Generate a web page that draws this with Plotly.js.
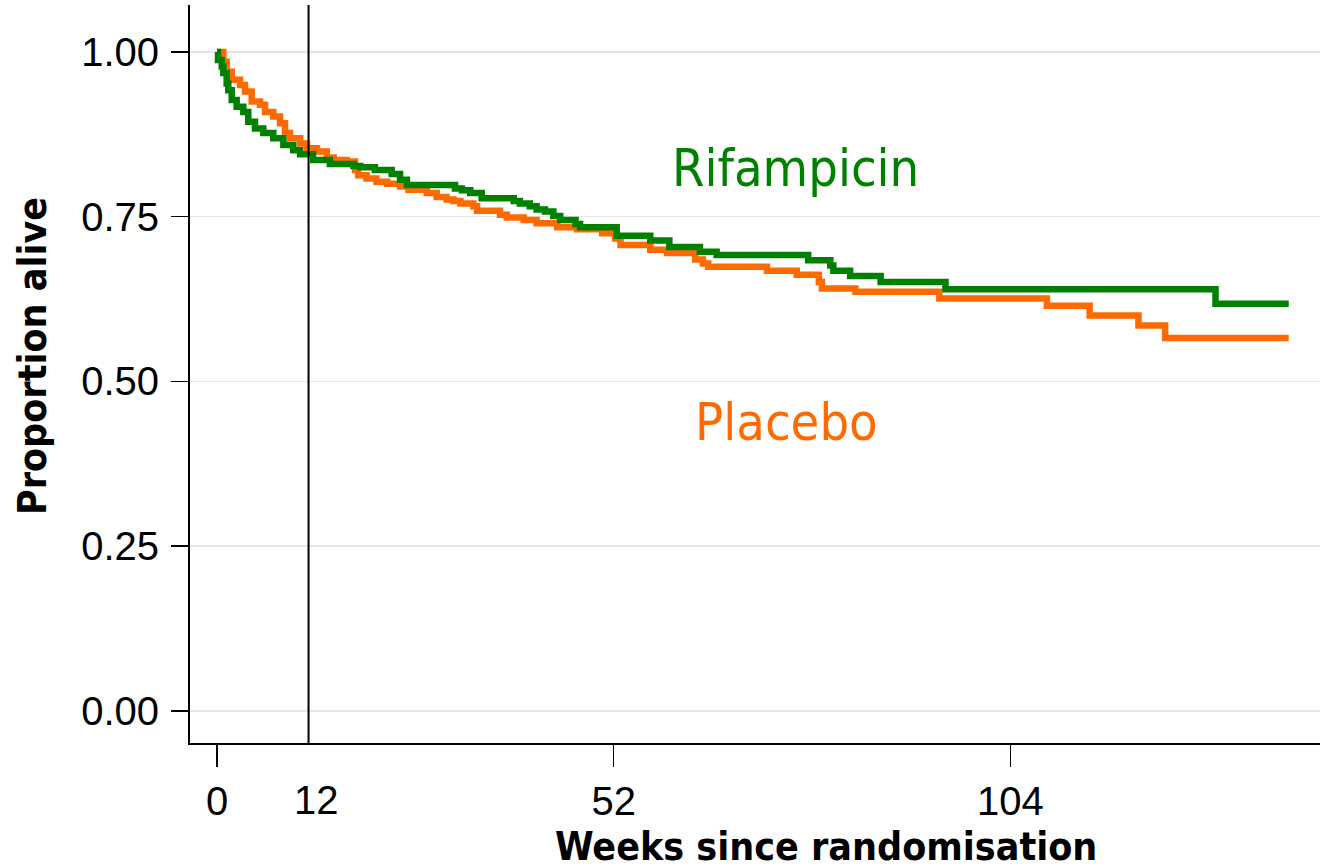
<!DOCTYPE html>
<html>
<head>
<meta charset="utf-8">
<script src="https://cdn.plot.ly/plotly-3.0.1.min.js"></script>
<style>html,body{margin:0;padding:0;background:#fff;}#chart{width:1320px;height:867px;}</style>
</head>
<body>
<div id="chart"></div>
<script>
// Kaplan-Meier step data (weeks since randomisation, proportion alive)
const weeksRifampicin = [0, 0.13, 0.62, 0.83, 1.27, 1.48, 1.93, 2.58, 3.45, 4.10, 4.98, 6.07, 7.38, 8.70, 10.0, 10.9, 12.6, 14.8, 17.9, 18.8, 20.7, 22.9, 24.0, 24.9, 31.2, 32.1, 33.2, 34.7, 38.9, 39.7, 41.0, 41.9, 43.0, 44.1, 45.0, 47.0, 47.6, 52.4, 56.8, 59.3, 63.3, 65.5, 77.5, 80.4, 80.8, 83.0, 87.0, 95.5, 130.9, 140.5];
const survRifampicin = [1.000, 0.988, 0.978, 0.968, 0.952, 0.942, 0.927, 0.917, 0.909, 0.894, 0.884, 0.877, 0.869, 0.859, 0.851, 0.845, 0.836, 0.830, 0.827, 0.825, 0.821, 0.815, 0.806, 0.798, 0.793, 0.790, 0.786, 0.778, 0.774, 0.770, 0.766, 0.761, 0.758, 0.751, 0.745, 0.739, 0.734, 0.721, 0.714, 0.704, 0.697, 0.692, 0.684, 0.676, 0.668, 0.660, 0.651, 0.640, 0.618, 0.618];

const weeksPlacebo = [0, 0.83, 1.27, 1.93, 3.02, 3.67, 4.55, 5.64, 6.30, 7.38, 8.26, 8.92, 9.57, 10.9, 11.8, 13.1, 14.4, 15.3, 17.0, 18.1, 18.5, 19.6, 20.9, 22.3, 24.0, 25.1, 27.5, 28.8, 30.1, 31.0, 31.9, 33.6, 34.1, 37.1, 38.0, 40.2, 41.9, 44.6, 47.2, 50.5, 52.2, 52.9, 56.8, 59.0, 62.7, 63.7, 64.4, 72.1, 76.0, 78.9, 79.3, 83.7, 94.7, 108.8, 114.4, 120.8, 124.3, 140.5];
const survPlacebo = [1.000, 0.985, 0.970, 0.958, 0.950, 0.940, 0.925, 0.920, 0.909, 0.902, 0.892, 0.877, 0.869, 0.861, 0.854, 0.849, 0.840, 0.836, 0.834, 0.821, 0.813, 0.808, 0.803, 0.800, 0.796, 0.791, 0.786, 0.780, 0.776, 0.774, 0.770, 0.766, 0.759, 0.753, 0.749, 0.745, 0.740, 0.734, 0.731, 0.725, 0.717, 0.707, 0.700, 0.695, 0.685, 0.679, 0.674, 0.668, 0.662, 0.651, 0.641, 0.636, 0.626, 0.615, 0.600, 0.585, 0.566, 0.566];

const xTickVals = [0, 52, 104];
const xTickText = ['0', '52', '104'];
const yTickVals = [0, 0.25, 0.5, 0.75, 1];
const yTickText = ['0.00', '0.25', '0.50', '0.75', '1.00'];
const markerWeek = 12;
const seriesNames = ['Rifampicin', 'Placebo'];

const GREEN = '#008000';
const ORANGE = '#ff6a00';

const traces = [
  {x: weeksPlacebo, y: survPlacebo, type: 'scatter', mode: 'lines', name: seriesNames[1],
   line: {color: ORANGE, width: 6.5, shape: 'hv'}, hoverinfo: 'x+y'},
  {x: weeksRifampicin, y: survRifampicin, type: 'scatter', mode: 'lines', name: seriesNames[0],
   line: {color: GREEN, width: 6.5, shape: 'hv'}, hoverinfo: 'x+y'}
];

const layout = {
  width: 1320, height: 867,
  margin: {l: 190, r: 0, t: 5, b: 124, pad: 0},
  paper_bgcolor: '#ffffff', plot_bgcolor: '#ffffff',
  showlegend: false,
  font: {family: 'Liberation Sans, Arial, sans-serif', color: '#000'},
  xaxis: {
    range: [-3.54, 144.6], tickvals: xTickVals, ticktext: xTickText,
    ticks: 'outside', ticklen: 22, tickwidth: 1.5, tickcolor: '#000',
    tickfont: {family: 'Liberation Sans, Arial, sans-serif', size: 40, color: '#000'},
    showline: true, linecolor: '#000', linewidth: 2,
    showgrid: false, zeroline: false, ticklabelstandoff: 0
  },
  yaxis: {
    range: [-0.0486, 1.0713], tickvals: yTickVals, ticktext: yTickText,
    ticks: 'outside', ticklen: 17, tickwidth: 1.5, tickcolor: '#000',
    tickfont: {family: 'Liberation Sans, Arial, sans-serif', size: 40, color: '#000'},
    showline: true, linecolor: '#000', linewidth: 2,
    showgrid: true, gridcolor: '#e6e6e6', gridwidth: 1.5, zeroline: false,
    ticklabelstandoff: 4
  },
  shapes: [
    {type: 'line', xref: 'x', yref: 'paper', x0: markerWeek, x1: markerWeek, y0: 0, y1: 1,
     line: {color: '#000', width: 2}}
  ],
  annotations: [
    {text: seriesNames[0], xref: 'x', yref: 'y', x: 75.9, y: 0.824, showarrow: false,
     xanchor: 'center', yanchor: 'middle',
     font: {family: 'DejaVu Sans Condensed, DejaVu Sans, sans-serif', size: 52, color: GREEN}},
    {text: seriesNames[1], xref: 'x', yref: 'y', x: 74.7, y: 0.4385, showarrow: false,
     xanchor: 'center', yanchor: 'middle',
     font: {family: 'DejaVu Sans Condensed, DejaVu Sans, sans-serif', size: 52, color: ORANGE}},
    {text: String(markerWeek), xref: 'x', yref: 'paper', x: markerWeek, xshift: 8, y: -0.0772,
     showarrow: false, xanchor: 'center', yanchor: 'middle',
     font: {family: 'Liberation Sans, Arial, sans-serif', size: 40, color: '#000'}},
    {text: '<b>Weeks since randomisation</b>', xref: 'paper', yref: 'paper', x: 0.5628, y: -0.1409,
     showarrow: false, xanchor: 'center', yanchor: 'middle',
     font: {family: 'DejaVu Sans Condensed, DejaVu Sans, sans-serif', size: 39, color: '#000'}},
    {text: '<b>Proportion alive</b>', xref: 'paper', yref: 'paper', x: -0.1389, y: 0.5244,
     showarrow: false, xanchor: 'center', yanchor: 'middle', textangle: -90,
     font: {family: 'DejaVu Sans Condensed, DejaVu Sans, sans-serif', size: 39, color: '#000'}}
  ]
};

Plotly.newPlot('chart', traces, layout, {displayModeBar: false, staticPlot: true});
</script>
</body>
</html>
